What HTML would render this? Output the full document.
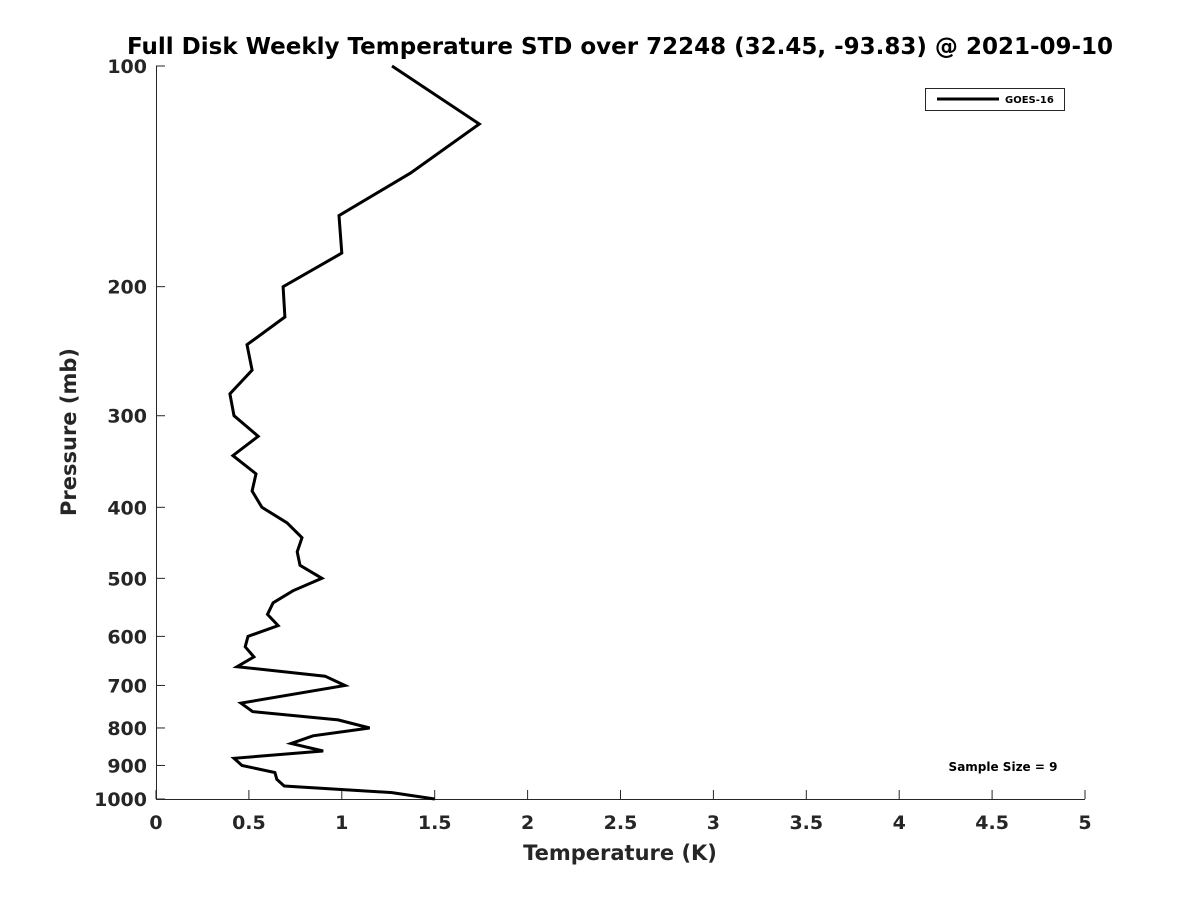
<!DOCTYPE html>
<html><head><meta charset="utf-8"><style>
body{margin:0;background:#fff;}
svg{display:block;font-family:"DejaVu Sans","Liberation Sans",sans-serif;}
</style></head><body>
<svg id="chart" width="1200" height="900">
<rect width="1200" height="900" fill="#fff"/>
<text x="620" y="54" text-anchor="middle" font-size="23" font-weight="bold" fill="#000">Full Disk Weekly Temperature STD over 72248 (32.45, -93.83) @ 2021-09-10</text>
<g id="axes"></g>
<g id="series"></g>
<text x="620" y="860" text-anchor="middle" font-size="21" font-weight="bold" fill="#262626">Temperature (K)</text>
<text transform="translate(76,432) rotate(-90)" text-anchor="middle" font-size="21" font-weight="bold" fill="#262626">Pressure (mb)</text>
<g>
<rect x="925.5" y="88.5" width="139" height="22" fill="#fff" stroke="#262626" stroke-width="1"/>
<line x1="937" y1="99" x2="999" y2="99" stroke="#000" stroke-width="3"/>
<text x="1005" y="103" font-size="10" font-weight="bold" fill="#000">GOES-16</text>
</g>
<text x="1003" y="771" text-anchor="middle" font-size="12" font-weight="bold" fill="#000">Sample Size = 9</text>
</svg>
<script>
const xTicks=[0,0.5,1,1.5,2,2.5,3,3.5,4,4.5,5];
const yTicks=[100,200,300,400,500,600,700,800,900,1000];
const pressures=[100,120,140,160,180,200,220,240,260,280,300,320,340,360,380,400,420,440,460,480,500,520,540,560,580,600,620,640,660,680,700,740,760,780,800,820,840,860,880,900,920,940,960,980,1000];
const tempStd=[1.27,1.74,1.37,0.985,1.0,0.684,0.694,0.49,0.517,0.398,0.42,0.55,0.414,0.538,0.517,0.57,0.705,0.786,0.76,0.775,0.893,0.737,0.63,0.60,0.657,0.495,0.48,0.527,0.436,0.91,1.017,0.457,0.52,0.98,1.15,0.845,0.727,0.9,0.42,0.463,0.64,0.65,0.69,1.27,1.5];
const L=156,R=1085,T=66,B=799;
const xs=v=>L+(v-0)/(5-0)*(R-L);
const ys=p=>T+(Math.log10(p)-2)/(3-2)*(B-T);
const NS="http://www.w3.org/2000/svg";
const ax=document.getElementById('axes');
function mk(tag,attrs,parent){const e=document.createElementNS(NS,tag);for(const k in attrs)e.setAttribute(k,attrs[k]);parent.appendChild(e);return e;}
let l=mk('line',{x1:L,y1:B+0.5,x2:R,y2:B+0.5,stroke:'#262626','stroke-width':1},ax);


l=mk('line',{x1:L+0.5,y1:T,x2:L+0.5,y2:B,stroke:'#262626','stroke-width':1},ax);


xTicks.forEach(v=>{
 const x=xs(v);
 const t=mk('line',{x1:x,y1:B,x2:x,y2:B-9,stroke:'#262626'},ax);
 
 
 const tx=mk('text',{x:x,y:B+30,'text-anchor':'middle','font-size':19,'font-weight':'bold',fill:'#262626'},ax);
 tx.textContent=String(v);
 
 
});
yTicks.forEach(p=>{
 const y=ys(p);
 const t=mk('line',{x1:L,y1:y,x2:L+9,y2:y,stroke:'#262626'},ax);
 
 
 const tx=mk('text',{x:L-9,y:y+7,'text-anchor':'end','font-size':19,'font-weight':'bold',fill:'#262626'},ax);
 tx.textContent=String(p);
 
 
});
const pts=pressures.map((p,i)=>xs(tempStd[i]).toFixed(1)+','+ys(p).toFixed(1)).join(' ');
const pl=mk('polyline',{points:pts,fill:'none',stroke:'#000','stroke-width':3,'stroke-linejoin':'miter'},document.getElementById('series'));


</script>
</body></html>
